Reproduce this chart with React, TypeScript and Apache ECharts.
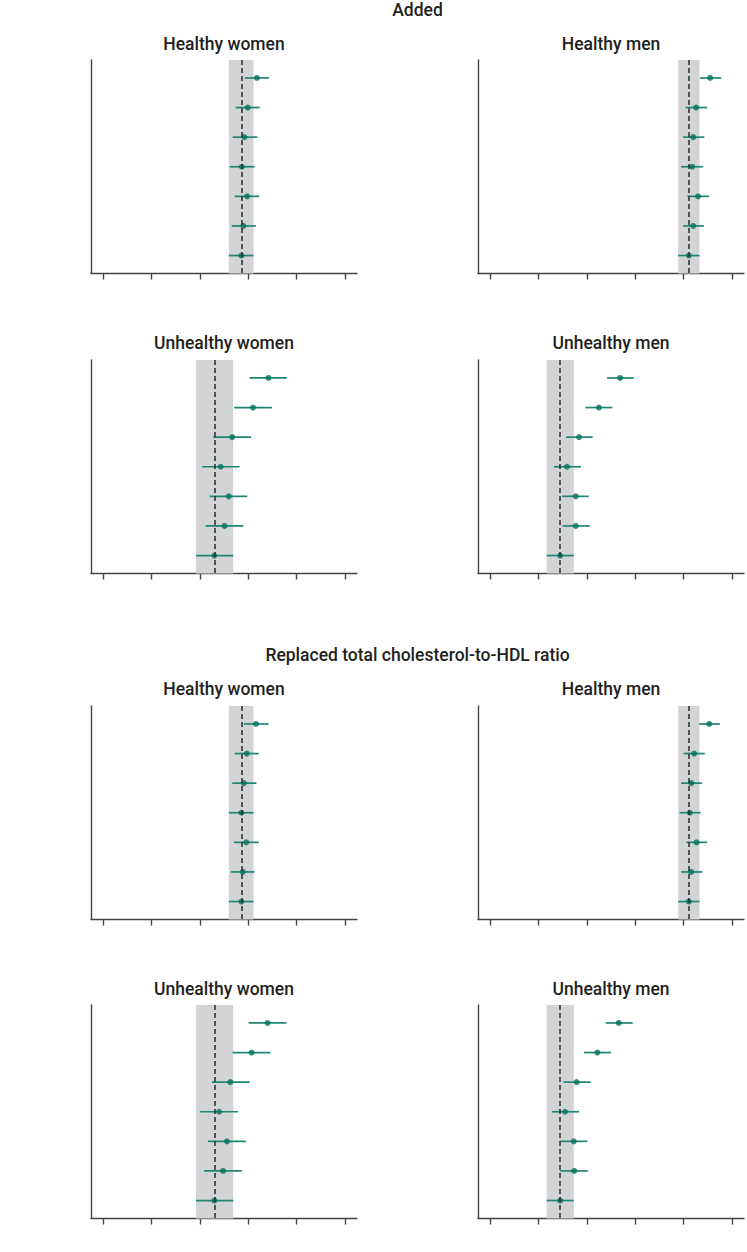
import React, { useEffect, useRef } from "react";
import * as echarts from "echarts";

// Section and panel headings
const sectionTitles = ["Added", "Replaced total cholesterol-to-HDL ratio"];
const panelTitles = ["Healthy women", "Healthy men", "Unhealthy women", "Unhealthy men"];

// Positions of the (unlabelled) x-axis ticks
const tickValues = [0, 1, 2, 3, 4, 5];

// Rows are listed top to bottom; the last row is the reference group,
// whose estimate gives the dashed line and whose interval gives the grey band.
const addedHealthyWomenEst = [3.18, 2.99, 2.92, 2.87, 2.98, 2.9, 2.86];
const addedHealthyWomenLo = [2.93, 2.74, 2.68, 2.62, 2.72, 2.66, 2.6];
const addedHealthyWomenHi = [3.43, 3.24, 3.19, 3.13, 3.23, 3.16, 3.11];

const addedHealthyMenEst = [4.55, 4.26, 4.2, 4.18, 4.3, 4.2, 4.11];
const addedHealthyMenLo = [4.34, 4.04, 3.99, 3.95, 4.08, 3.99, 3.89];
const addedHealthyMenHi = [4.78, 4.49, 4.43, 4.4, 4.53, 4.42, 4.33];

const addedUnhealthyWomenEst = [3.42, 3.1, 2.67, 2.43, 2.6, 2.51, 2.3];
const addedUnhealthyWomenLo = [3.03, 2.71, 2.28, 2.05, 2.2, 2.12, 1.92];
const addedUnhealthyWomenHi = [3.8, 3.49, 3.06, 2.82, 2.98, 2.9, 2.69];

const addedUnhealthyMenEst = [2.69, 2.25, 1.84, 1.59, 1.77, 1.77, 1.45];
const addedUnhealthyMenLo = [2.42, 1.97, 1.57, 1.32, 1.49, 1.5, 1.17];
const addedUnhealthyMenHi = [2.97, 2.53, 2.12, 1.88, 2.04, 2.06, 1.73];

const replacedHealthyWomenEst = [3.16, 2.97, 2.91, 2.86, 2.96, 2.89, 2.86];
const replacedHealthyWomenLo = [2.91, 2.72, 2.67, 2.6, 2.71, 2.64, 2.6];
const replacedHealthyWomenHi = [3.42, 3.22, 3.17, 3.11, 3.22, 3.13, 3.11];

const replacedHealthyMenEst = [4.53, 4.22, 4.16, 4.13, 4.27, 4.16, 4.11];
const replacedHealthyMenLo = [4.32, 4.0, 3.95, 3.92, 4.06, 3.95, 3.89];
const replacedHealthyMenHi = [4.75, 4.44, 4.38, 4.35, 4.49, 4.39, 4.33];

const replacedUnhealthyWomenEst = [3.4, 3.07, 2.63, 2.4, 2.56, 2.48, 2.3];
const replacedUnhealthyWomenLo = [3.01, 2.68, 2.25, 2.0, 2.17, 2.09, 1.92];
const replacedUnhealthyWomenHi = [3.79, 3.46, 3.03, 2.79, 2.95, 2.87, 2.69];

const replacedUnhealthyMenEst = [2.66, 2.22, 1.79, 1.55, 1.73, 1.74, 1.45];
const replacedUnhealthyMenLo = [2.39, 1.94, 1.52, 1.28, 1.45, 1.45, 1.17];
const replacedUnhealthyMenHi = [2.95, 2.5, 2.08, 1.84, 2.01, 2.02, 1.73];

type Panel = { est: number[]; lo: number[]; hi: number[] };

const panels: Panel[] = [
  { est: addedHealthyWomenEst, lo: addedHealthyWomenLo, hi: addedHealthyWomenHi },
  { est: addedHealthyMenEst, lo: addedHealthyMenLo, hi: addedHealthyMenHi },
  { est: addedUnhealthyWomenEst, lo: addedUnhealthyWomenLo, hi: addedUnhealthyWomenHi },
  { est: addedUnhealthyMenEst, lo: addedUnhealthyMenLo, hi: addedUnhealthyMenHi },
  { est: replacedHealthyWomenEst, lo: replacedHealthyWomenLo, hi: replacedHealthyWomenHi },
  { est: replacedHealthyMenEst, lo: replacedHealthyMenLo, hi: replacedHealthyMenHi },
  { est: replacedUnhealthyWomenEst, lo: replacedUnhealthyWomenLo, hi: replacedUnhealthyWomenHi },
  { est: replacedUnhealthyMenEst, lo: replacedUnhealthyMenLo, hi: replacedUnhealthyMenHi },
];

const FONT = "Roboto, 'Noto Sans', sans-serif";
const TEXT_COLOR = "#231f20";
const TEAL = "#00725c";
const TEAL_LINE = "#1f8672";
const BAND = "#d3d4d6";
const AXIS = "#444";

const COL_LEFT = [91, 478];
const GRID_W = 266;
const ROW_TOP = [60, 360, 706, 1005];
const GRID_H = 213.5;
const SECTION_Y = [10, 655];
const PANEL_TITLE_Y = [44, 343, 689, 989];

function buildOption() {
  const grid: any[] = [];
  const xAxis: any[] = [];
  const yAxis: any[] = [];
  const series: any[] = [];
  const graphic: any[] = [];

  sectionTitles.forEach((t, s) => {
    graphic.push({
      type: "text",
      x: COL_LEFT[0] + (COL_LEFT[1] + GRID_W - COL_LEFT[0]) / 2,
      y: SECTION_Y[s],
      style: {
        text: t,
        font: `500 17.5px ${FONT}`,
        fill: TEXT_COLOR,
        textAlign: "center",
        textVerticalAlign: "middle",
      },
    });
  });

  panels.forEach((p, i) => {
    const section = Math.floor(i / 4);
    const within = i % 4;
    const col = within % 2;
    const row = section * 2 + Math.floor(within / 2);
    const left = COL_LEFT[col];
    const top = ROW_TOP[row];

    graphic.push({
      type: "text",
      x: left + GRID_W / 2,
      y: PANEL_TITLE_Y[row],
      style: {
        text: panelTitles[within],
        font: `500 17.5px ${FONT}`,
        fill: TEXT_COLOR,
        textAlign: "center",
        textVerticalAlign: "middle",
      },
    });

    grid.push({ left, top, width: GRID_W, height: GRID_H, containLabel: false });
    xAxis.push({
      type: "value",
      gridIndex: i,
      min: -0.25,
      max: 5.25,
      splitLine: { show: false },
      axisLabel: { show: false },
      axisLine: { show: true, onZero: false, lineStyle: { color: AXIS, width: 1.4 } },
      axisTick: {
        show: true,
        inside: false,
        length: 6,
        customValues: tickValues,
        lineStyle: { color: AXIS, width: 1.4 },
      },
    });
    const n = p.est.length;
    yAxis.push({
      type: "value",
      gridIndex: i,
      inverse: true,
      min: -0.607,
      max: n - 1 + 0.607,
      splitLine: { show: false },
      axisLabel: { show: false },
      axisTick: { show: false },
      axisLine: { show: true, onZero: false, lineStyle: { color: AXIS, width: 1.4 } },
    });

    const refIdx = n - 1;
    const ciData = p.est.map((_, r) => [p.lo[r], p.hi[r], r]);
    const ptData = p.est.map((v, r) => [v, r]);

    // Confidence intervals, plus the reference band and dashed reference line
    series.push({
      type: "custom",
      xAxisIndex: i,
      yAxisIndex: i,
      z: 2,
      silent: true,
      encode: { x: [0, 1], y: 2 },
      data: ciData,
      renderItem: (_params: any, api: any) => {
        const y = api.value(2);
        const a = api.coord([api.value(0), y]);
        const b = api.coord([api.value(1), y]);
        return {
          type: "line",
          shape: { x1: a[0], y1: a[1], x2: b[0], y2: b[1] },
          style: { stroke: TEAL_LINE, lineWidth: 1.7 },
        };
      },
      markArea: {
        silent: true,
        itemStyle: { color: BAND },
        data: [[{ xAxis: p.lo[refIdx] }, { xAxis: p.hi[refIdx] }]],
      },
      markLine: {
        silent: true,
        symbol: "none",
        label: { show: false },
        lineStyle: { color: "#2a2a2a", width: 1.5, type: [5, 3] },
        data: [{ xAxis: p.est[refIdx] }],
      },
    });
    // Point estimates
    series.push({
      type: "scatter",
      xAxisIndex: i,
      yAxisIndex: i,
      z: 4,
      silent: true,
      symbol: "circle",
      symbolSize: 6,
      itemStyle: { color: TEAL },
      data: ptData,
    });
  });

  return {
    animation: false,
    backgroundColor: "#ffffff",
    grid,
    xAxis,
    yAxis,
    series,
    graphic,
  };
}

export default function App() {
  const ref = useRef<HTMLDivElement>(null);
  useEffect(() => {
    document.body.style.margin = "0";
    if (!ref.current) return;
    const chart = echarts.init(ref.current, undefined, { renderer: "svg" });
    chart.setOption(buildOption() as any);
    return () => chart.dispose();
  }, []);
  return <div ref={ref} style={{ width: 747, height: 1252 }} />;
}
